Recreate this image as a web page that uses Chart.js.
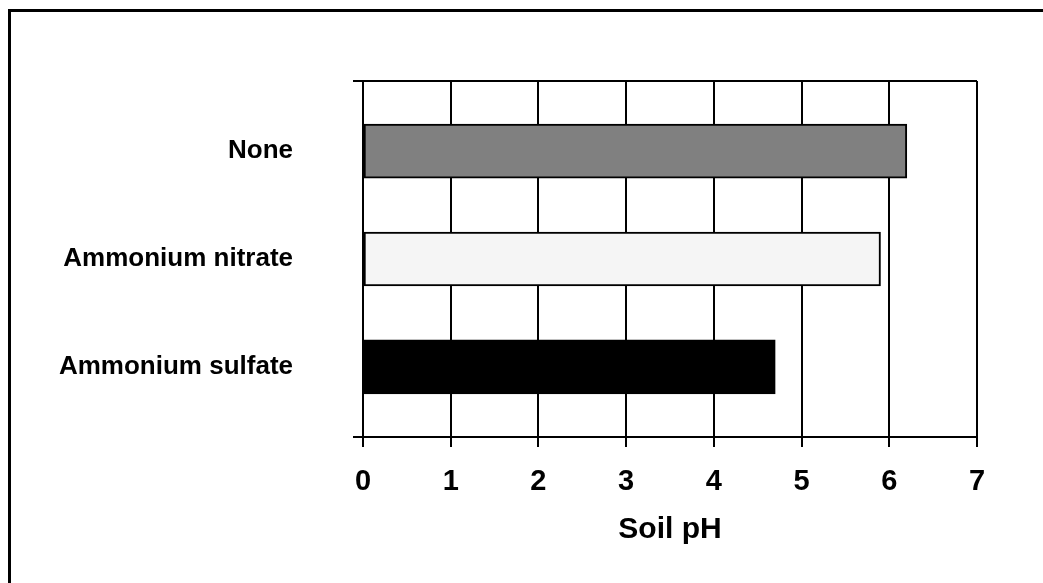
<!DOCTYPE html>
<html>
<head>
<meta charset="utf-8">
<script src="https://cdn.jsdelivr.net/npm/chart.js@4.4.1/dist/chart.umd.min.js"></script>
<style>
  html, body { margin: 0; padding: 0; background: #fff; overflow: hidden; }
  #frame {
    position: absolute; left: 8px; top: 9px; width: 1100px; height: 650px;
    border-left: 3px solid #000; border-top: 3px solid #000;
  }
  #chart { position: absolute; left: 0; top: 0; }
</style>
</head>
<body>
<div id="frame"></div>
<canvas id="chart" width="1043" height="583"></canvas>
<script>
// Soil pH by fertilizer treatment
const categories = ['None', 'Ammonium nitrate', 'Ammonium sulfate'];
const phValues = [6.2, 5.9, 4.7];
const barColors = ['#808080', '#f5f5f5', '#000000'];
const xTicks = [0, 1, 2, 3, 4, 5, 6, 7];

// category slots sit at 1..3 on a linear axis, frame edges a bit outside
const yMin = 0.35;
const yMax = 3.65;

const font = 'Liberation Sans, Arial, Helvetica, sans-serif';

const isEdge = ctx => !!ctx.tick && (ctx.tick.value === yMin || ctx.tick.value === yMax);

new Chart(document.getElementById('chart'), {
    type: 'bar',
    data: {
        datasets: [{
            data: categories.map((c, i) => ({ y: i + 1, x: phValues[i] })),
            backgroundColor: barColors,
            borderColor: '#000',
            borderWidth: 2,
            borderSkipped: false,
            barThickness: 54
        }]
    },
    options: {
        indexAxis: 'y',
        responsive: false,
        devicePixelRatio: 1,
        animation: false,
        layout: {
            padding: { left: 0, right: 66, top: 81, bottom: 0 }
        },
        plugins: {
            legend: { display: false },
            tooltip: { enabled: false }
        },
        scales: {
            x: {
                type: 'linear',
                min: 0,
                max: 7,
                afterBuildTicks: s => { s.ticks = xTicks.map(v => ({ value: v })); },
                afterFit: s => { s.height = 146; },
                grid: {
                    color: '#000',
                    lineWidth: 2,
                    tickLength: 10,
                    tickColor: '#000'
                },
                border: { color: '#000', width: 2 },
                ticks: {
                    color: '#000',
                    padding: 18,
                    font: { family: font, size: 29, weight: 'bold' }
                },
                title: {
                    display: true,
                    text: 'Soil pH',
                    color: '#000',
                    padding: { top: 0, bottom: 35 },
                    font: { family: font, size: 30, weight: 'bold' }
                }
            },
            y: {
                type: 'linear',
                reverse: true,
                offset: false,
                min: yMin,
                max: yMax,
                afterBuildTicks: s => {
                    s.ticks = [yMin, 1, 2, 3, yMax].map(v => ({ value: v }));
                },
                afterFit: s => { s.width = 363; },
                grid: {
                    offset: false,
                    color: ctx => isEdge(ctx) ? '#000' : 'rgba(0,0,0,0)',
                    tickColor: ctx => isEdge(ctx) ? '#000' : 'rgba(0,0,0,0)',
                    lineWidth: 2,
                    tickLength: 10
                },
                border: { color: '#000', width: 2 },
                ticks: {
                    color: '#000',
                    padding: 60,
                    font: { family: font, size: 26, weight: 'bold' },
                    callback: v => (v === yMin || v === yMax) ? '' : categories[v - 1]
                }
            }
        }
    }
});
</script>
</body>
</html>
